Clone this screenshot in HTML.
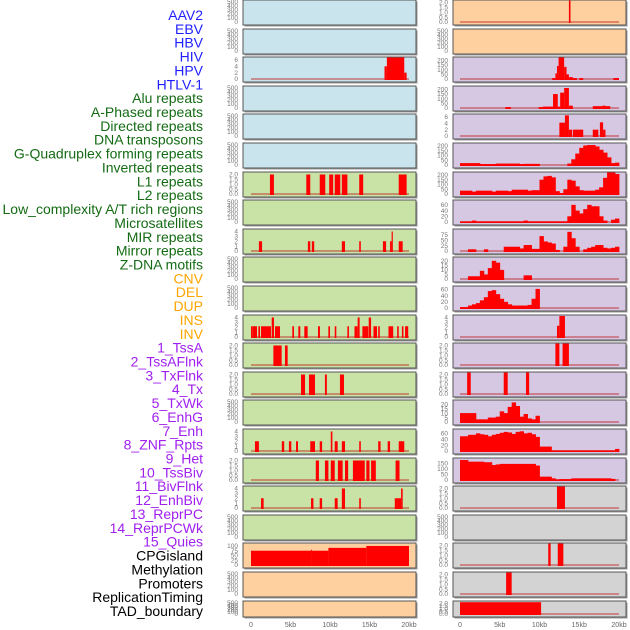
<!DOCTYPE html>
<html><head><meta charset="utf-8"><style>
html,body{margin:0;padding:0;background:#fff;width:630px;height:630px;overflow:hidden}
svg{display:block;font-family:"Liberation Sans",sans-serif}
</style></head><body>
<svg id="chart" width="630" height="630" viewBox="0 0 630 630" xmlns="http://www.w3.org/2000/svg"></svg>
<script>
// ---- labels ----
const trackLabels = ["AAV2","EBV","HBV","HIV","HPV","HTLV-1","Alu repeats","A-Phased repeats","Directed repeats","DNA transposons","G-Quadruplex forming repeats","Inverted repeats","L1 repeats","L2 repeats","Low_complexity A/T rich regions","Microsatellites","MIR repeats","Mirror repeats","Z-DNA motifs","CNV","DEL","DUP","INS","INV","1_TssA","2_TssAFlnk","3_TxFlnk","4_Tx","5_TxWk","6_EnhG","7_Enh","8_ZNF_Rpts","9_Het","10_TssBiv","11_BivFlnk","12_EnhBiv","13_ReprPC","14_ReprPCWk","15_Quies","CPGisland","Methylation","Promoters","ReplicationTiming","TAD_boundary"];
const labelGroups = [6,13,5,15,5];
const xTickValues = [0,5,10,15,20];
const xTickLabels = ["0","5kb","10kb","15kb","20kb"];
// ---- tick label sets ----
const t500 = ["0","100","200","300","400","500"];
const t2 = ["0.0","0.5","1.0","1.5","2.0"];
const t4 = ["0","1","2","3","4"];
const t6 = ["0","2","4","6"];
const t200 = ["0","50","100","150","200"];
const t60 = ["0","20","40","60"];
const t75 = ["0","25","50","75"];
const t20 = ["0","5","10","15","20"];
const t150 = ["0","50","100","150"];
const t100 = ["0","25","50","75","100"];
// ---- left column data: segments [startKb, endKb, value] ----
const L_HIV = [[16.9,17.2,4],[17.2,19.4,7],[19.4,19.7,2]];
const L_L1 = [[2.4,2.9,2],[7.0,7.5,2],[8.7,9.4,2],[9.9,10.4,2],[10.6,11.3,2],[11.5,12.2,2],[13.7,14.2,2],[18.7,19.7,2]];
const L_MIR = [[1.0,1.4,2],[7.2,7.5,2],[7.7,8.0,2],[11.5,11.9,2],[13.7,13.9,2],[16.7,17.1,2],[17.6,17.8,2],[17.8,17.95,4],[18.7,19.2,2]];
const L_INS = [[0,0.2,2.2],[0.21,0.76,2.2],[0.93,1.14,2.2],[1.27,2.53,2.2],[2.62,2.91,4],[3.04,3.67,2.2],[5.23,5.44,2.2],[5.99,6.24,2.2],[6.75,7.17,2.2],[8.48,8.73,2.2],[9.79,10.0,2.2],[10.6,10.8,2.2],[12.2,12.4,2.2],[13.1,13.5,2.2],[13.5,13.75,4],[14.1,14.85,2.2],[14.9,15.2,4],[15.5,15.95,2.2],[16.1,16.3,2.2],[17.4,18.0,2.2],[18.5,18.7,2.2],[19.1,19.3,2.2],[19.5,19.9,2.2]];
const L_TssA = [[2.83,3.88,2],[4.3,4.64,2]];
const L_TssAFlnk = [[6.33,6.84,2],[7.34,8.1,2],[9.36,9.6,2],[11.26,11.77,2]];
const L_EnhG = [[0.5,1.0,2],[3.9,4.2,2],[4.8,5.1,2],[5.7,5.95,2],[7.5,8.1,2],[8.7,9.0,2],[10.1,10.3,4],[10.6,10.97,2],[11.5,11.9,2],[13.7,13.9,2],[16.1,16.4,2],[17.3,17.6,2],[18.7,19.4,2]];
const L_Enh = [[8.2,8.6,2],[9.36,9.8,2],[10.1,10.6,2],[11.0,11.6,2],[11.9,12.3,2],[12.9,14.4,2],[14.6,15.0,2],[15.2,15.8,2],[18.3,18.8,2]];
const L_ZNF = [[1.27,1.6,2],[7.6,7.9,2],[8.7,9.0,2],[10.6,10.97,2],[11.5,11.9,4],[13.7,13.9,2],[18.2,18.6,2],[18.6,19.0,2],[19.0,19.2,4]];
const L_Methyl = [[0,7.6,75],[7.6,7.7,80],[7.7,9.8,75],[9.8,14.6,90],[14.6,20,100]];
// ---- right column data ----
const R_AAV2 = [[13.7,13.9,2.2]];
const R_HIV = [[11.6,12.0,10],[12.0,12.2,60],[12.2,12.4,140],[12.4,13.1,240],[13.1,13.4,130],[13.4,13.7,50],[13.7,14.2,20],[14.2,14.7,10],[15.0,15.5,10],[19.3,20,10]];
const R_HPV = [[5.7,6.4,10],[9.9,10.4,10],[10.4,11.7,15],[11.7,12.3,150],[12.3,12.6,15],[12.6,13.1,165],[13.1,13.7,215],[13.7,14.2,25],[16.7,17.9,20],[17.9,18.3,25],[18.3,18.9,20]];
const R_HTLV = [[12.5,13.2,4.2],[13.2,13.7,6.5],[13.7,14.1,2],[14.2,15.5,2],[16.7,17.4,2],[17.6,18.0,4.3],[18.0,18.3,2]];
// 40 bins of 0.5 kb
const R_Alu = [20,20,20,20,20,10,10,10,10,15,15,15,15,15,15,10,12,12,12,12,0,0,0,0,0,0,0,15,60,120,180,205,210,210,195,160,130,80,20,25];
const R_APhased = [35,35,35,25,35,35,35,35,25,35,35,35,30,45,45,45,45,35,40,40,150,185,190,175,30,10,50,150,140,80,40,35,35,35,45,70,170,230,230,210];
const R_Directed = [2,2,2,5,2,2,2,2,2,2,2,2,2,2,2,2,5,2,2,2,2,2,2,2,2,2,2,20,60,40,30,45,60,55,55,20,5,0,8,12];
const R_DNA = [0,0,8,8,0,0,8,0,0,0,0,20,20,20,20,12,28,28,10,10,70,45,40,35,5,0,20,90,60,20,0,8,15,20,28,28,15,12,15,20];
const R_Mirror = [0,0,3,3,3,9,5,12,20,18,10,0,0,0,0,0,4,4,0,0,0,0,0,0,0,0,0,0,0,0,0,0,0,0,0,0,0,0,0,0];
const R_CNV = [3,3,8,12,16,25,35,55,58,45,30,20,12,8,8,8,8,10,30,62,0,0,0,0,0,0,0,0,0,0,0,0,0,0,0,0,0,0,0,0];
const R_INS = [[12.2,12.5,2.3],[12.5,13.2,4.3]];
const R_TssA = [[12.0,12.5,2.2],[12.9,13.7,2.2]];
const R_TssAFlnk = [[0.9,1.35,2.2],[5.5,6.0,2.2],[8.3,8.7,2.2]];
const R_TxFlnk = [10,10,10,10,3,3,3,5,5,6,12,10,17,22,18,6,9,4,3,7,0,0,0,0,0,0,0,0,0,0,0,0,0,0,0,0,0,0,0,0];
const R_Tx = [50,50,55,55,60,57,55,50,55,58,62,65,63,58,65,67,60,62,57,48,15,15,15,2,2,2,2,2,2,2,2,2,2,2,2,2,2,2,2,7];
const R_TxWk = [180,180,165,165,165,165,160,160,135,140,145,145,145,145,145,145,145,145,145,130,30,30,30,15,5,8,8,8,15,15,15,15,15,15,15,15,15,15,10,0];
const R_Quies = [[12.2,13.2,2.2]];
const R_CPG = [[11.1,11.4,2.2],[12.3,13.0,2.2]];
const R_Methyl = [[5.8,6.5,2.2]];
const R_Promo = [[0,10.2,2.2]];

const C_BLUE="#c9e4ec", C_GREEN="#c9e2a6", C_ORANGE="#fed09f", C_PURPLE="#d6c7e2", C_GRAY="#d3d3d3";
const rowsLeft = [
 {bg:C_BLUE,ticks:t500,max:500},{bg:C_BLUE,ticks:t500,max:500},{bg:C_BLUE,ticks:t6,max:6.3,segs:L_HIV},
 {bg:C_BLUE,ticks:t500,max:500},{bg:C_BLUE,ticks:t500,max:500},{bg:C_BLUE,ticks:t500,max:500},
 {bg:C_GREEN,ticks:t2,max:2.05,segs:L_L1},{bg:C_GREEN,ticks:t500,max:500},{bg:C_GREEN,ticks:t4,max:4.1,segs:L_MIR},
 {bg:C_GREEN,ticks:t500,max:500},{bg:C_GREEN,ticks:t500,max:500},{bg:C_GREEN,ticks:t4,max:4.1,segs:L_INS},
 {bg:C_GREEN,ticks:t2,max:2.05,segs:L_TssA},{bg:C_GREEN,ticks:t2,max:2.05,segs:L_TssAFlnk},{bg:C_GREEN,ticks:t500,max:500},
 {bg:C_GREEN,ticks:t4,max:4.1,segs:L_EnhG},{bg:C_GREEN,ticks:t2,max:2.05,segs:L_Enh},{bg:C_GREEN,ticks:t4,max:4.1,segs:L_ZNF},
 {bg:C_GREEN,ticks:t500,max:500},{bg:C_ORANGE,ticks:t100,max:105,segs:L_Methyl},{bg:C_ORANGE,ticks:t500,max:500},{bg:C_ORANGE,ticks:t500,max:500}
];
const rowsRight = [
 {bg:C_ORANGE,ticks:t2,max:2.05,segs:R_AAV2},{bg:C_ORANGE,ticks:t500,max:500},{bg:C_PURPLE,ticks:t200,max:215,segs:R_HIV},
 {bg:C_PURPLE,ticks:t200,max:215,segs:R_HPV},{bg:C_PURPLE,ticks:t6,max:6.3,segs:R_HTLV},{bg:C_PURPLE,ticks:t200,max:210,bins:R_Alu},
 {bg:C_PURPLE,ticks:t200,max:210,bins:R_APhased},{bg:C_PURPLE,ticks:t60,max:70,bins:R_Directed},{bg:C_PURPLE,ticks:t75,max:94,bins:R_DNA},
 {bg:C_PURPLE,ticks:t20,max:22,bins:R_Mirror},{bg:C_PURPLE,ticks:t60,max:65,bins:R_CNV},{bg:C_PURPLE,ticks:t4,max:4.1,segs:R_INS},
 {bg:C_PURPLE,ticks:t2,max:2.05,segs:R_TssA},{bg:C_PURPLE,ticks:t2,max:2.05,segs:R_TssAFlnk},{bg:C_PURPLE,ticks:t20,max:22.5,bins:R_TxFlnk},
 {bg:C_PURPLE,ticks:t60,max:68,bins:R_Tx},{bg:C_PURPLE,ticks:t150,max:180,bins:R_TxWk},{bg:C_GRAY,ticks:t2,max:2.05,segs:R_Quies},
 {bg:C_GRAY,ticks:t500,max:500},{bg:C_GRAY,ticks:t2,max:2.05,segs:R_CPG},{bg:C_GRAY,ticks:t2,max:2.05,segs:R_Methyl},{bg:C_GRAY,ticks:t2,max:2.05,segs:R_Promo}
];

const NS="http://www.w3.org/2000/svg";
const svg=document.getElementById('chart');
function mk(tag,attrs,parent){const e=document.createElementNS(NS,tag);for(const k in attrs)e.setAttribute(k,attrs[k]);(parent||svg).appendChild(e);return e;}

// labels
const groupColors=["#1f1fff","#146b14","#ffa500","#a020f0","#000000"];
let idx=0;
labelGroups.forEach((n,g)=>{for(let i=0;i<n;i++){const t=mk('text',{x:203,y:(15+idx*13.86+5).toFixed(1),'text-anchor':'end','font-size':'14',fill:groupColors[g]});


t.textContent=trackLabels[idx];idx++;}});

function rowTop(i){return Math.round(i*28.6);}
function rowH(i){return i===21?16:25;}

function drawColumn(rows,px0,pw,ax0,axScale,tickX,side){
 const xs=kb=>ax0+kb*axScale;
 rows.forEach((r,i)=>{
  const top=rowTop(i),h=rowH(i),base=top+h-3,span=h-5;
  const ys=v=>base-Math.min(v,r.max*1.2)/r.max*span;
  const g=mk('g',{});
  
  
  mk('rect',{x:px0+1.5,y:top+1.5,width:pw,height:h,fill:'#999'},g);
  mk('rect',{x:px0,y:top,width:pw,height:h,fill:r.bg,stroke:'#555','stroke-width':1},g);
  const cid='clip-'+side+i;
  const cp=mk('clipPath',{id:cid},g);mk('rect',{x:px0+0.5,y:top+0.5,width:pw-1,height:h-1},cp);
  const dg=mk('g',{'clip-path':'url(#'+cid+')'},g);
  let segs=r.segs;
  if(r.bins){segs=r.bins.map((v,j)=>[j*0.5,j*0.5+0.5,v]).filter(s=>s[2]>0);}
  if(segs){
   const bl=mk('rect',{x:xs(0),y:base-1,width:xs(20)-xs(0),height:2,fill:'rgba(190,40,40,0.45)'},dg);
   
   
   segs.forEach(s=>{const y=ys(s[2]);const b=mk('rect',{x:xs(s[0]).toFixed(2),y:y.toFixed(2),width:(Math.max(1,xs(s[1])-xs(s[0]))+(r.bins?0.4:0)).toFixed(2),height:(base+1-y).toFixed(2),fill:'#ff0000'},dg);
    
    });
  }
  r.ticks.forEach((tl,k)=>{const v=parseFloat(tl);const y=ys(v);
   const t=mk('text',{x:tickX,y:(y+2.2).toFixed(1),'text-anchor':'end','font-size':'6.5',fill:'#777'},g);
   
   
   t.textContent=tl;});
 });
 xTickValues.forEach((v,k)=>{const t=mk('text',{x:xs(v),y:627,'text-anchor':'middle','font-size':'7',fill:'#666'});
  
  
  t.textContent=xTickLabels[k];});
}
drawColumn(rowsLeft,243,173,251,7.9,238,'left');
drawColumn(rowsRight,453,173,460,7.95,448,'right');
</script>
</body></html>
